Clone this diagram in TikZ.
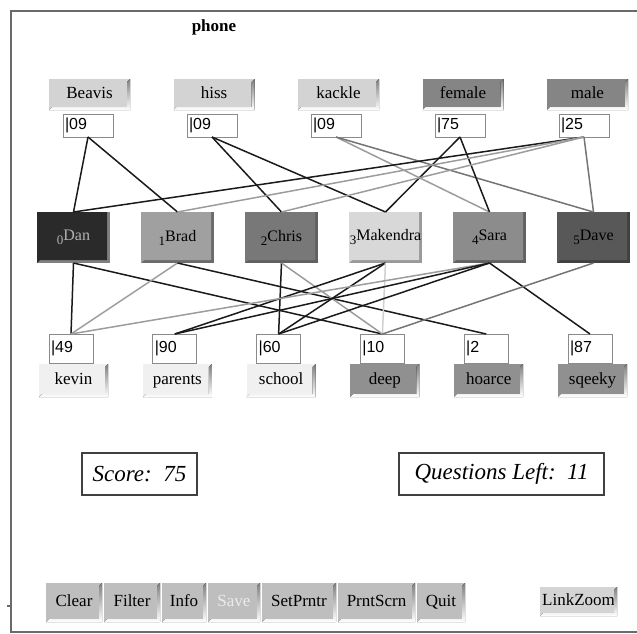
\documentclass[tikz,border=0pt]{standalone}
\usepackage{fontspec}
\setmainfont{Liberation Serif}
\newfontfamily\numfont{Liberation Sans}
\definecolor{framec}{HTML}{6A6A6A}
\definecolor{lightbtn}{HTML}{D3D3D3}
\definecolor{darkbtn}{HTML}{858585}
\definecolor{palebtn}{HTML}{F0F0F0}
\definecolor{midbtn}{HTML}{909090}
\definecolor{ctrlbtn}{HTML}{BEBEBE}
\definecolor{zoombtn}{HTML}{D4D4D4}
\definecolor{shade}{HTML}{5E5E5E}
\definecolor{tbd}{HTML}{8A8A8A}
\definecolor{cDan}{HTML}{2A2A2A}
\definecolor{cBrad}{HTML}{A0A0A0}
\definecolor{cChris}{HTML}{787878}
\definecolor{cMak}{HTML}{D8D8D8}
\definecolor{cSara}{HTML}{8C8C8C}
\definecolor{cDave}{HTML}{585858}
\definecolor{eA}{HTML}{1A1A1A}
\definecolor{eB}{HTML}{9C9C9C}
\definecolor{eC}{HTML}{747474}
\definecolor{eD}{HTML}{D0D0D0}
\newcommand\btnshade[2]{\fill[#2] (#1.south west) -- (#1.south east) -- (#1.north east) -- ([shift={(-3,3)}]#1.north east) -- ([shift={(-3,-3)}]#1.south east) -- ([shift={(3,-3)}]#1.south west) -- cycle;}
\newcommand\idx[1]{\raisebox{-4pt}{\fontsize{13}{13}\selectfont #1}}
\tikzset{
  btn/.style={inner sep=0pt, outer sep=0pt, text height=11pt, text depth=3.5pt, font=\fontsize{17}{19}\selectfont},
  tbox/.style={draw=tbd, line width=1pt, fill=white, inner xsep=2pt, inner ysep=0pt, outer sep=0pt, align=left, font=\numfont\fontsize{16}{18}\selectfont},
  person/.style={inner sep=0pt, outer sep=0pt, minimum width=73pt, minimum height=51pt, font=\fontsize{16}{18}\selectfont},
  link/.style={line width=1.5pt},
  infobox/.style={draw=black!75, line width=2pt, fill=white, inner sep=0pt, minimum height=42pt, font=\itshape\fontsize{23}{26}\selectfont},
}
\begin{document}
\begin{tikzpicture}[x=1pt,y=-1pt]
\useasboundingbox (0,0) rectangle (637,633);
% frame
\draw[framec, line width=2pt] (637,11) -- (11,11) -- (11,632) -- (637,632);
\draw[framec, line width=1.5pt] (7,606) -- (11,606);
\node[font=\bfseries\fontsize{17}{19}\selectfont] (title) at (214,27) {phone};
% top buttons
\foreach \n/\t/\c [count=\i from 0] in {tBeavis/Beavis/lightbtn, thiss/hiss/lightbtn, tkackle/kackle/lightbtn, tfemale/female/darkbtn, tmale/male/darkbtn}{
  \node[btn, fill=\c, minimum width=81pt, minimum height=31pt] (\n) at (89.5+124.5*\i,94.5) {\t};
  \btnshade{\n}{shade}
}
\foreach \v [count=\i from 0] in {09,09,09,75,25}{
  \node[tbox, text width=46pt, minimum height=23pt] (tb\i) at (88+124*\i,125.5) {|\v};
}
% people
\foreach \i/\x/\c/\s in {0/73.5/cDan/50, 1/177.5/cBrad/58, 2/281.5/cChris/62, 3/385.5/cMak/40, 4/489.5/cSara/62, 5/593.5/cDave/75}{
  \fill[black!\s] (\x-36.5,212) -- (\x+36.5,212) -- (\x+36.5,263) -- (\x-36.5,263) -- cycle;
  \fill[\c] (\x-36.5,212) -- (\x+33.5,212) -- (\x+33.5,260) -- (\x-33.5,260) -- (\x-36.5,263) -- cycle;
}
\node[person, text=black!30] (m0) at (73.5,237.5) {\idx{0}Dan};
\node[person] (m1) at (177.5,237.5) {\idx{1}Brad};
\node[person] (m2) at (281.5,237.5) {\idx{2}Chris};
\node[person] (m3) at (385.5,237.5) {\idx{3}Makendra};
\node[person] (m4) at (489.5,237.5) {\idx{4}Sara};
\node[person] (m5) at (593.5,237.5) {\idx{5}Dave};
% bottom boxes
\foreach \v [count=\i from 0] in {49,90,60,10,2,87}{
  \node[tbox, text width=40pt, minimum height=29pt] (bb\i) at (71+103.8*\i,348.5) {|\v};
}
\foreach \n/\t/\c [count=\i from 0] in {bkevin/kevin/palebtn, bparents/parents/palebtn, bschool/school/palebtn, bdeep/deep/midbtn, bhoarce/hoarce/midbtn, bsqeeky/sqeeky/midbtn}{
  \node[btn, fill=\c, minimum width=69pt, minimum height=33pt] (\n) at (73.5+103.8*\i,380.5) {\t};
  \btnshade{\n}{shade}
}
% links top layer
\foreach \a/\b/\c in {tb0/m0/eA, tb0/m1/eA, tb1/m2/eA, tb1/m3/eA, tb2/m4/eB, tb2/m5/eC, tb3/m3/eA, tb3/m4/eA, tb4/m0/eA, tb4/m1/eB, tb4/m2/eB, tb4/m5/eC}{
  \draw[link, color=\c] (\a.south) -- (\b.north);
}
% links bottom layer
\foreach \a/\b/\c in {m0/bb0/eA, m0/bb3/eA, m1/bb0/eB, m1/bb4/eA, m2/bb2/eA, m2/bb3/eB, m3/bb1/eA, m3/bb2/eA, m3/bb3/eD, m4/bb0/eB, m4/bb1/eA, m4/bb2/eA, m4/bb5/eA, m5/bb3/eC}{
  \draw[link, color=\c] (\a.south) -- (\b.north);
}
% score boxes
\node[infobox, minimum width=115pt] (score) at (139.5,474) {Score:\ \ 75};
\node[infobox, minimum width=205pt] (qleft) at (501.5,474) {Questions Left:\ \ 11};
% control buttons
\foreach \n/\t/\l/\r in {cClear/Clear/46/102, cFilter/Filter/104/160, cInfo/Info/162/206, cSet/SetPrntr/262/336, cPrnt/PrntScrn/338/415, cQuit/Quit/417/465}{
  \node[btn, fill=ctrlbtn, minimum width=\r-\l, minimum height=39pt] (\n) at ({(\l+\r)/2},602.5) {\t};
  \btnshade{\n}{shade}
}
\node[btn, fill=ctrlbtn, text=white!92!black, minimum width=52pt, minimum height=39pt] (cSave) at (234,602.5) {Save};
\btnshade{cSave}{shade}
\node[btn, fill=zoombtn, minimum width=77pt, minimum height=29pt] (cZoom) at (578.5,601.5) {LinkZoom};
\btnshade{cZoom}{shade}
\end{tikzpicture}
\end{document}
